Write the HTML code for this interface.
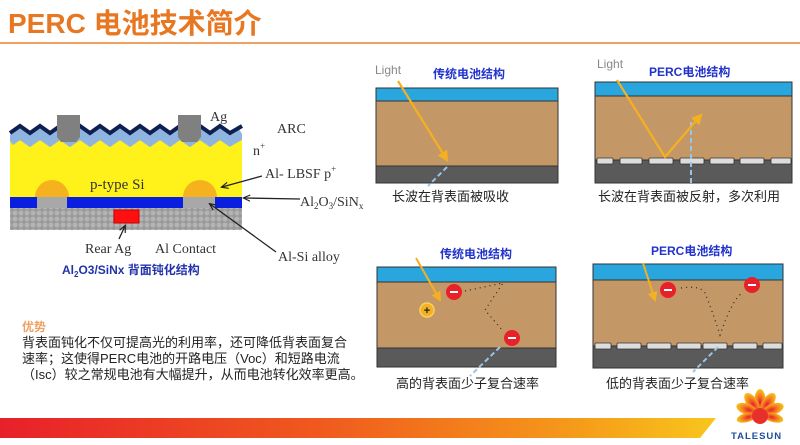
<!DOCTYPE html>
<html><head><meta charset="utf-8"><style>
html,body{margin:0;padding:0;background:#fff;}
svg{display:block;}
text{font-family:"Liberation Sans","Noto Sans CJK SC",sans-serif;}
</style></head><body>
<svg width="800" height="445" viewBox="0 0 800 445" xmlns="http://www.w3.org/2000/svg">
<defs>
<linearGradient id="bar" x1="0" x2="1" y1="0" y2="0">
<stop offset="0" stop-color="#e8202a"/><stop offset="0.45" stop-color="#f05a1e"/><stop offset="0.8" stop-color="#f59a1a"/><stop offset="1" stop-color="#f8c61c"/></linearGradient>
<pattern id="peb" width="6" height="6" patternUnits="userSpaceOnUse"><rect width="6" height="6" fill="#9a9a9a"/><circle cx="3" cy="3" r="2.4" fill="#b4b4b4"/></pattern>
<radialGradient id="sun" cx="0.5" cy="0.6" r="0.6"><stop offset="0" stop-color="#e8202a"/><stop offset="0.5" stop-color="#f47a20"/><stop offset="1" stop-color="#f8c61c"/></radialGradient>
<marker id="ah" viewBox="0 0 10 10" refX="8" refY="5" markerWidth="5" markerHeight="5" orient="auto"><path d="M0,0 L10,5 L0,10 z" fill="#f5b021"/></marker>
<marker id="ak" viewBox="0 0 10 10" refX="8" refY="5" markerWidth="6" markerHeight="6" orient="auto"><path d="M0,1 L9,5 L0,9" fill="none" stroke="#222" stroke-width="1.5"/></marker>
</defs>

<text x="8" y="33" font-size="28" font-weight="bold" fill="#e87722">PERC 电池技术简介</text>
<rect x="0" y="42" width="800" height="2" fill="#f0a060"/>

<!-- left diagram -->
<rect x="10" y="208" width="232" height="22" fill="url(#peb)"/>
<rect x="10" y="197" width="232" height="11" fill="#0a1ee0"/>
<rect x="37" y="197" width="30" height="11" fill="#a8a8a8"/>
<rect x="183" y="197" width="32" height="11" fill="#a8a8a8"/>
<rect x="10" y="138" width="232" height="59" fill="#fff21a"/>
<path d="M10,141 l10,-7 l10,7 l10,-7 l10,7 l10,-7 l10,7 l10,-7 l10,7 l10,-7 l10,7 l10,-7 l10,7 l10,-7 l10,7 l10,-7 l10,7 l10,-7 l10,7 l10,-7 l10,7 l10,-7 l10,7 l12,-7" fill="none" stroke="#8fb4e0" stroke-width="10" stroke-linejoin="miter"/>
<rect x="0" y="120" width="10" height="40" fill="#fff"/>
<rect x="242" y="120" width="10" height="40" fill="#fff"/>
<path d="M10,133 l10,-7 l10,7 l10,-7 l10,7 l10,-7 l10,7 l10,-7 l10,7 l10,-7 l10,7 l10,-7 l10,7 l10,-7 l10,7 l10,-7 l10,7 l10,-7 l10,7 l10,-7 l10,7 l10,-7 l10,7 l12,-7" fill="none" stroke="#0d2050" stroke-width="4"/>
<path d="M35,197 a17,17 0 0 1 34,0 z" fill="#f5b21e"/>
<path d="M183,197 a17,17 0 0 1 34,0 z" fill="#f5b21e"/>
<path d="M57,115 h23 v22 l-4,5 h-15 l-4,-5 z" fill="#808080"/>
<path d="M178,115 h23 v22 l-4,5 h-15 l-4,-5 z" fill="#808080"/>
<rect x="114" y="210" width="25" height="13" fill="#ff1010" stroke="#c00" stroke-width="1"/>
<g font-size="14" fill="#333">
<text x="210" y="121" style="font-family:'Liberation Serif',serif">Ag</text>
<text x="277" y="133" style="font-family:'Liberation Serif',serif">ARC</text>
<text x="253" y="155" style="font-family:'Liberation Serif',serif">n<tspan dy="-6" font-size="9">+</tspan></text>
<text x="265" y="178" style="font-family:'Liberation Serif',serif">Al- LBSF p<tspan dy="-6" font-size="9">+</tspan></text>
<text x="300" y="206" style="font-family:'Liberation Serif',serif">Al<tspan dy="3" font-size="9">2</tspan><tspan dy="-3">O</tspan><tspan dy="3" font-size="9">3</tspan><tspan dy="-3">/SiN</tspan><tspan dy="3" font-size="9">x</tspan></text>
<text x="85" y="253" style="font-family:'Liberation Serif',serif">Rear Ag</text>
<text x="155" y="253" style="font-family:'Liberation Serif',serif">Al Contact</text>
<text x="278" y="261" style="font-family:'Liberation Serif',serif">Al-Si alloy</text>
<text x="90" y="189" font-size="15" style="font-family:'Liberation Serif',serif">p-type Si</text>
</g>
<g stroke="#222" stroke-width="1.3" fill="none" marker-end="url(#ak)">
<line x1="262" y1="176" x2="222" y2="187"/>
<line x1="300" y1="199" x2="244" y2="198"/>
<line x1="276" y1="252" x2="210" y2="204"/>
<line x1="119" y1="239" x2="125" y2="226"/>
</g>
<text x="62" y="274" font-size="12" font-weight="bold" fill="#2233aa">Al<tspan dy="3" font-size="8">2</tspan><tspan dy="-3">O3/SiNx 背面钝化结构</tspan></text>

<!-- panel 1 -->
<rect x="376" y="88" width="182" height="95" fill="#c49866" stroke="#333" stroke-width="1"/>
<rect x="376" y="88" width="182" height="13" fill="#2aa6de" stroke="#333" stroke-width="1"/>
<rect x="376" y="166" width="182" height="17" fill="#5a5a5a" stroke="#333" stroke-width="1"/>
<text x="375" y="74" font-size="12" fill="#888">Light</text>
<text x="433" y="78" font-size="12" font-weight="bold" fill="#2233cc">传统电池结构</text>
<line x1="398" y1="81" x2="447" y2="160" stroke="#f5b021" stroke-width="2.2" marker-end="url(#ah)"/>
<line x1="447" y1="167" x2="428" y2="186" stroke="#9ac4e8" stroke-width="2" stroke-dasharray="5,3"/>
<text x="392" y="201" font-size="13" fill="#222">长波在背表面被吸收</text>

<!-- panel 2 -->
<rect x="595" y="82" width="197" height="101" fill="#c49866" stroke="#333" stroke-width="1"/>
<rect x="595" y="82" width="197" height="14" fill="#2aa6de" stroke="#333" stroke-width="1"/>
<rect x="595" y="160" width="197" height="23" fill="#5a5a5a" stroke="#333" stroke-width="1"/>
<g fill="#ddd" stroke="#333" stroke-width="0.8">
<rect x="597" y="158" width="16" height="6" rx="1"/><rect x="620" y="158" width="22" height="6" rx="1"/><rect x="649" y="158" width="24" height="6" rx="1"/><rect x="680" y="158" width="24" height="6" rx="1"/><rect x="710" y="158" width="24" height="6" rx="1"/><rect x="740" y="158" width="24" height="6" rx="1"/><rect x="771" y="158" width="20" height="6" rx="1"/></g>
<line x1="691" y1="122" x2="691" y2="183" stroke="#9ac4e8" stroke-width="2" stroke-dasharray="5,3"/>
<text x="597" y="68" font-size="12" fill="#888">Light</text>
<text x="649" y="76" font-size="12" font-weight="bold" fill="#2233cc">PERC电池结构</text>
<polyline points="617,80 665,157 701,115" fill="none" stroke="#f5b021" stroke-width="2.2" marker-end="url(#ah)"/>
<text x="598" y="201" font-size="13" fill="#222">长波在背表面被反射，多次利用</text>

<!-- panel 3 -->
<rect x="377" y="267" width="179" height="100" fill="#c49866" stroke="#333" stroke-width="1"/>
<rect x="377" y="267" width="179" height="15" fill="#2aa6de" stroke="#333" stroke-width="1"/>
<rect x="377" y="348" width="179" height="19" fill="#5a5a5a" stroke="#333" stroke-width="1"/>
<text x="440" y="258" font-size="12" font-weight="bold" fill="#2233cc">传统电池结构</text>
<line x1="416" y1="258" x2="440" y2="300" stroke="#f5b021" stroke-width="2" marker-end="url(#ah)"/>
<line x1="500" y1="347" x2="470" y2="376" stroke="#9ac4e8" stroke-width="2" stroke-dasharray="5,3"/>
<polyline points="465,291 503,283 485,310 503,331" fill="none" stroke="#222" stroke-width="1.2" stroke-dasharray="1,4"/>
<circle cx="427" cy="310" r="7" fill="#f5b021" stroke="#f8d060" stroke-width="1.5"/><text x="427" y="314" font-size="11" font-weight="bold" text-anchor="middle" fill="#222">+</text>
<circle cx="454" cy="292" r="8" fill="#e8202a"/><rect x="450" y="291" width="8" height="2" fill="#fff"/>
<circle cx="512" cy="338" r="8" fill="#e8202a"/><rect x="508" y="337" width="8" height="2" fill="#fff"/>
<text x="396" y="388" font-size="13" fill="#222">高的背表面少子复合速率</text>

<!-- panel 4 -->
<rect x="593" y="264" width="190" height="104" fill="#c49866" stroke="#333" stroke-width="1"/>
<rect x="593" y="264" width="190" height="16" fill="#2aa6de" stroke="#333" stroke-width="1"/>
<rect x="593" y="346" width="190" height="22" fill="#5a5a5a" stroke="#333" stroke-width="1"/>
<g fill="#ddd" stroke="#333" stroke-width="0.8">
<rect x="595" y="343" width="16" height="6" rx="1"/><rect x="617" y="343" width="24" height="6" rx="1"/><rect x="647" y="343" width="24" height="6" rx="1"/><rect x="677" y="343" width="24" height="6" rx="1"/><rect x="703" y="343" width="24" height="6" rx="1"/><rect x="733" y="343" width="24" height="6" rx="1"/><rect x="763" y="343" width="19" height="6" rx="1"/></g>
<line x1="718" y1="347" x2="693" y2="372" stroke="#9ac4e8" stroke-width="2" stroke-dasharray="5,3"/>
<text x="651" y="255" font-size="12" font-weight="bold" fill="#2233cc">PERC电池结构</text>
<line x1="643" y1="263" x2="655" y2="300" stroke="#f5b021" stroke-width="2" marker-end="url(#ah)"/>
<path d="M681,288 Q700,285 705,293 Q712,310 720,335 Q732,300 742,293" fill="none" stroke="#222" stroke-width="1.2" stroke-dasharray="1,4"/>
<circle cx="668" cy="290" r="8" fill="#e8202a"/><rect x="664" y="289" width="8" height="2" fill="#fff"/>
<circle cx="752" cy="285" r="8" fill="#e8202a"/><rect x="748" y="284" width="8" height="2" fill="#fff"/>
<text x="606" y="388" font-size="13" fill="#222">低的背表面少子复合速率</text>

<!-- text -->
<text x="22" y="331" font-size="12" font-weight="bold" fill="#f0a060">优势</text>
<g font-size="13" fill="#222">
<text x="22" y="347">背表面钝化不仅可提高光的利用率，还可降低背表面复合</text>
<text x="22" y="363">速率；这使得PERC电池的开路电压（Voc）和短路电流</text>
<text x="22" y="379">（Isc）较之常规电池有大幅提升，从而电池转化效率更高。</text>
</g>

<!-- bottom bar -->
<path d="M0,418 H716 L700,438 H0 z" fill="url(#bar)"/>

<!-- logo -->
<g transform="translate(760,414)">
<g fill="url(#sun)">
<ellipse cx="0" cy="-14" rx="5.5" ry="11"/>
<ellipse cx="0" cy="-14" rx="5.5" ry="11" transform="rotate(-35)"/>
<ellipse cx="0" cy="-14" rx="5.5" ry="11" transform="rotate(35)"/>
<ellipse cx="0" cy="-14" rx="5.5" ry="11" transform="rotate(-70)"/>
<ellipse cx="0" cy="-14" rx="5.5" ry="11" transform="rotate(70)"/>
<ellipse cx="0" cy="-14" rx="4.5" ry="10" transform="rotate(-105)"/>
<ellipse cx="0" cy="-14" rx="4.5" ry="10" transform="rotate(105)"/>
</g>
<circle cx="0" cy="2" r="8" fill="#e8302a"/>
</g>
<text x="731" y="439" font-size="9.5" font-weight="bold" fill="#1e4d9b" letter-spacing="1">TALESUN</text>
</svg>
</body></html>
